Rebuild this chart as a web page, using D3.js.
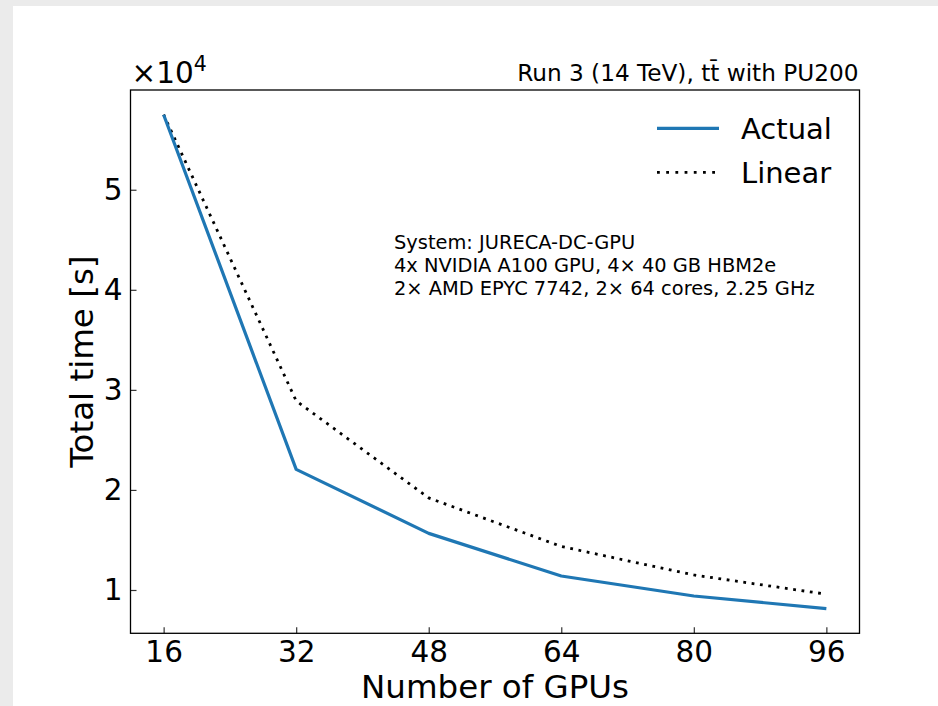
<!DOCTYPE html>
<html>
<head>
<meta charset="utf-8">
<script src="https://cdn.jsdelivr.net/npm/d3@7/dist/d3.min.js"></script>
<style>
  html, body { margin: 0; padding: 0; background: #ebebeb; }
  svg { display: block; }
  text { font-family: "DejaVu Sans", sans-serif; fill: #000; }
</style>
</head>
<body>
<svg id="chart" width="938" height="706"></svg>
<script>
// ---- data ----
const gpus = [16, 32, 48, 64, 80, 96];
const actual = [57500, 22060, 15660, 11400, 9400, 8140];
const linear = [57500, 28900, 19200, 14350, 11500, 9580];
const xTicks = [16, 32, 48, 64, 80, 96];
const yTicks = [10000, 20000, 30000, 40000, 50000];
const seriesNames = ["Actual", "Linear"];
const titleText = "Run 3 (14 TeV), tt\u0304 with PU200";
const infoLines = [
  "System: JURECA-DC-GPU",
  "4x NVIDIA A100 GPU, 4\u00d7 40 GB HBM2e",
  "2\u00d7 AMD EPYC 7742, 2\u00d7 64 cores, 2.25 GHz"
];

const svg = d3.select("#chart");
// white figure area (page shows gray strip at left & top)
svg.append("rect").attr("x", 13).attr("y", 6).attr("width", 925).attr("height", 700).attr("fill", "#fff");

const L = 130.5, R = 859.5, T = 90, B = 633.3;

// matplotlib-like 5% margins
const xmin = d3.min(gpus), xmax = d3.max(gpus);
const xpad = (xmax - xmin) * 0.05;
const allY = actual.concat(linear);
const ymin = d3.min(allY), ymax = d3.max(allY);
const ypad = (ymax - ymin) * 0.05;

const x = d3.scaleLinear().domain([xmin - xpad, xmax + xpad]).range([L, R]);
const y = d3.scaleLinear().domain([ymin - ypad, ymax + ypad]).range([B, T]);

const g = svg.append("g");

// lines
const line = d3.line().x((d, i) => x(gpus[i])).y(d => y(d));
g.append("path").datum(linear).attr("d", line)
  .attr("fill", "none").attr("stroke", "#000").attr("stroke-width", 2.8)
  .attr("stroke-dasharray", "2.8,5.6");
g.append("path").datum(actual).attr("d", line)
  .attr("fill", "none").attr("stroke", "#1f77b4").attr("stroke-width", 3.2)
  .attr("stroke-linejoin", "round");

// axes (ticks inward)
const xAxis = d3.axisBottom(x).tickValues(xTicks).tickSizeInner(-6).tickSizeOuter(0).tickPadding(8).tickFormat(d3.format("d"));
const gx = svg.append("g").attr("transform", `translate(0,${B})`).call(xAxis);
gx.select(".domain").remove();
gx.selectAll(".tick line").attr("stroke", "#333").attr("stroke-width", 1.2);
gx.selectAll(".tick text").attr("font-size", 29.5).attr("font-family", "DejaVu Sans").attr("fill", "#000");

const yAxis = d3.axisLeft(y).tickValues(yTicks).tickSizeInner(-6).tickSizeOuter(0).tickPadding(8).tickFormat(d => d / 10000);
const gy = svg.append("g").attr("transform", `translate(${L},0)`).call(yAxis);
gy.select(".domain").remove();
gy.selectAll(".tick line").attr("stroke", "#333").attr("stroke-width", 1.2);
gy.selectAll(".tick text").attr("font-size", 29.5).attr("font-family", "DejaVu Sans").attr("fill", "#000");

// frame
svg.append("rect").attr("x", L).attr("y", T).attr("width", R - L).attr("height", B - T)
  .attr("fill", "none").attr("stroke", "#000").attr("stroke-width", 1.3);

// offset text ×10^4
const off = svg.append("text").attr("x", L + 1).attr("y", 83).attr("font-size", 29.5);
off.append("tspan").text("\u00d710");
off.append("tspan").attr("font-size", 20.5).attr("dy", -12).text("4");

// title (right)
svg.append("text").attr("x", R - 1).attr("y", 81).attr("text-anchor", "end").attr("font-size", 23.2).text(titleText);

// axis labels
svg.append("text").attr("x", (L + R) / 2).attr("y", 697.5).attr("text-anchor", "middle").attr("font-size", 32.5).text("Number of GPUs");
svg.append("text").attr("transform", `translate(93,${(T + B) / 2}) rotate(-90)`).attr("text-anchor", "middle").attr("font-size", 32.5).text("Total time [s]");

// info text
svg.append("g").selectAll("text").data(infoLines).join("text")
  .attr("x", 394).attr("y", (d, i) => 249 + i * 23).attr("font-size", 19.4).text(d => d);

// legend
const lg = svg.append("g");
const legY = [128.3, 172.3];
lg.append("line").attr("x1", 657).attr("x2", 719).attr("y1", legY[0]).attr("y2", legY[0])
  .attr("stroke", "#1f77b4").attr("stroke-width", 3.2);
lg.append("line").attr("x1", 657).attr("x2", 719).attr("y1", legY[1]).attr("y2", legY[1])
  .attr("stroke", "#000").attr("stroke-width", 2.8).attr("stroke-dasharray", "2.8,6.4");
lg.selectAll("text").data(seriesNames).join("text")
  .attr("x", 741).attr("y", (d, i) => legY[i] + 11).attr("font-size", 29).text(d => d);
</script>
</body>
</html>
